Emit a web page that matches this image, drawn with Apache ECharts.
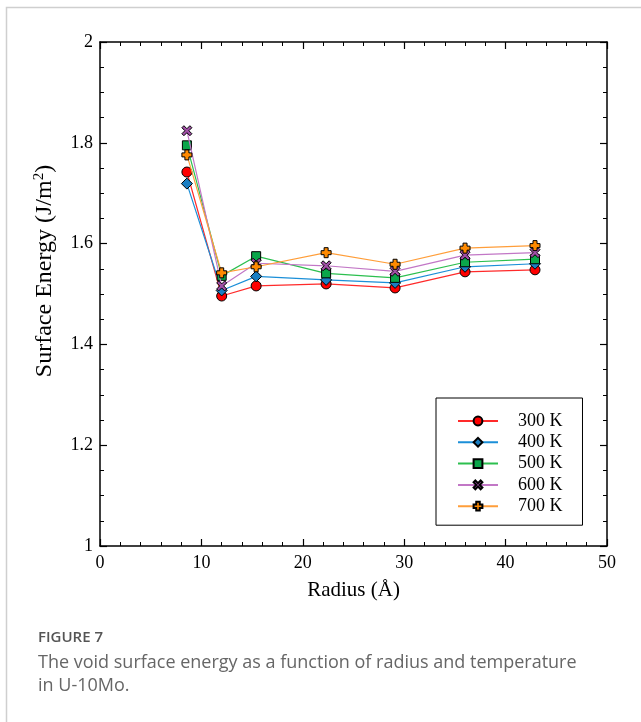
<!DOCTYPE html>
<html>
<head>
<meta charset="utf-8">
<script src="https://cdn.jsdelivr.net/npm/echarts@6/dist/echarts.min.js"></script>
<style>
html,body{margin:0;padding:0;background:#fff;}
#chart{width:641px;height:722px;}
</style>
</head>
<body>
<div id="chart"></div>
<script>
// ---- data ----
var radius = [8.57, 12.0, 15.4, 22.3, 29.1, 36.0, 42.9];
var e300 = [1.742, 1.496, 1.516, 1.520, 1.512, 1.544, 1.548];
var e400 = [1.719, 1.507, 1.535, 1.528, 1.522, 1.554, 1.560];
var e500 = [1.795, 1.536, 1.575, 1.541, 1.532, 1.563, 1.569];
var e600 = [1.824, 1.516, 1.561, 1.556, 1.545, 1.577, 1.582];
var e700 = [1.776, 1.542, 1.554, 1.582, 1.559, 1.591, 1.596];
var seriesNames = ['300 K', '400 K', '500 K', '600 K', '700 K'];
var xTicks = [0, 10, 20, 30, 40, 50];
var yTicks = [1, 1.2, 1.4, 1.6, 1.8, 2];

var PLUS = 'path://M3,0H7V3H10V7H7V10H3V7H0V3H3Z';
var XSYM = 'path://M2,0L5,3L8,0L10,2L7,5L10,8L8,10L5,7L2,10L0,8L3,5L0,2Z';

var styles = [
  {line:'#ff2a2a', fill:'#ff0000', symbol:'circle', size:10},
  {line:'#1b8fd8', fill:'#1a7ec2', symbol:'diamond', size:11},
  {line:'#2cbf4f', fill:'#0aa64a', symbol:'rect', size:9},
  {line:'#c277c6', fill:'#a04fa6', symbol:XSYM, size:10},
  {line:'#ff9e3a', fill:'#ff8a00', symbol:PLUS, size:10}
];
var values = [e300, e400, e500, e600, e700];

function pairs(ys){ return radius.map(function(x,i){ return [x, ys[i]]; }); }

var serif = 'Liberation Serif';
var series = values.map(function(v, k){
  var s = styles[k];
  return {
    name: seriesNames[k],
    type: 'line',
    data: pairs(v),
    symbol: s.symbol,
    symbolSize: s.size,
    showAllSymbol: true,
    lineStyle: {color: s.line, width: 1.2},
    itemStyle: {color: s.fill, borderColor: '#000', borderWidth: 1},
    emphasis: {disabled: true},
    animation: false,
    z: 2 + k
  };
});

function tick(){ return {show: true, inside: true, length: 7, lineStyle: {color: '#000', width: 1.2}}; }
function minor(n){ return {show: true, splitNumber: n, length: 4, lineStyle: {color: '#000', width: 1}}; }
function line(){ return {show: true, onZero: false, lineStyle: {color: '#000', width: 1.5}}; }

var chart = echarts.init(document.getElementById('chart'), null, {renderer: 'canvas'});
chart.setOption({
  animation: false,
  backgroundColor: '#fff',
  grid: {left: 100, top: 42, right: 34, bottom: 176, containLabel: false},
  xAxis: [
    {
      type: 'value', position: 'bottom', min: xTicks[0], max: xTicks[xTicks.length-1], interval: 10,
      axisLine: line(), axisTick: tick(), minorTick: minor(5), splitLine: {show: false},
      axisLabel: {show: true, inside: false, color: '#000', fontFamily: serif, fontSize: 18, margin: 8},
      name: 'Radius (Å)', nameLocation: 'middle', nameGap: 34,
      nameTextStyle: {color: '#000', fontFamily: serif, fontSize: 21}
    },
    {
      type: 'value', position: 'top', min: xTicks[0], max: xTicks[xTicks.length-1], interval: 10,
      axisLine: line(), axisTick: tick(), minorTick: minor(5), splitLine: {show: false},
      axisLabel: {show: false}
    }
  ],
  yAxis: [
    {
      type: 'value', position: 'left', min: yTicks[0], max: yTicks[yTicks.length-1], interval: 0.2,
      axisLine: line(), axisTick: tick(), minorTick: minor(4), splitLine: {show: false},
      axisLabel: {show: true, inside: false, color: '#000', fontFamily: serif, fontSize: 18, margin: 7},
      name: 'Surface Energy (J/m{sup|2})', nameLocation: 'middle', nameGap: 43, nameRotate: 90,
      nameTextStyle: {color: '#000', fontFamily: serif, fontSize: 24, padding: [0, 0, 0, 46],
        rich: {sup: {fontFamily: serif, fontSize: 15, verticalAlign: 'top', padding: [0,0,10,0], color:'#000'}}}
    },
    {
      type: 'value', position: 'right', min: yTicks[0], max: yTicks[yTicks.length-1], interval: 0.2,
      axisLine: line(), axisTick: tick(), minorTick: minor(4), splitLine: {show: false},
      axisLabel: {show: false}
    }
  ],
  legend: {
    data: seriesNames,
    orient: 'vertical',
    left: 436, top: 398,
    itemWidth: 40, itemHeight: 11, itemGap: 3.3,
    padding: [14, 20, 10, 21],
    borderColor: '#000', borderWidth: 1,
    textStyle: {color: '#000', fontFamily: serif, fontSize: 18, lineHeight: 18, padding: [0,0,0,15]},
    selectedMode: false
  },
  series: series,
  graphic: [
    {type: 'rect', left: 4, top: 5, shape: {width: 700, height: 800},
      style: {fill: 'none', stroke: '#cfcfcf', lineWidth: 1.5}, silent: true, z: -10},
    {type: 'text', left: 38, top: 630,
      style: {text: 'FIGURE 7', fill: '#555', font: '600 15px "Open Sans"'}},
    {type: 'text', left: 38, top: 651,
      style: {text: 'The void surface energy as a function of radius and temperature\nin U-10Mo.',
        fill: '#666', font: '18px "Open Sans"', lineHeight: 23}}
  ]
});
</script>
</body>
</html>
